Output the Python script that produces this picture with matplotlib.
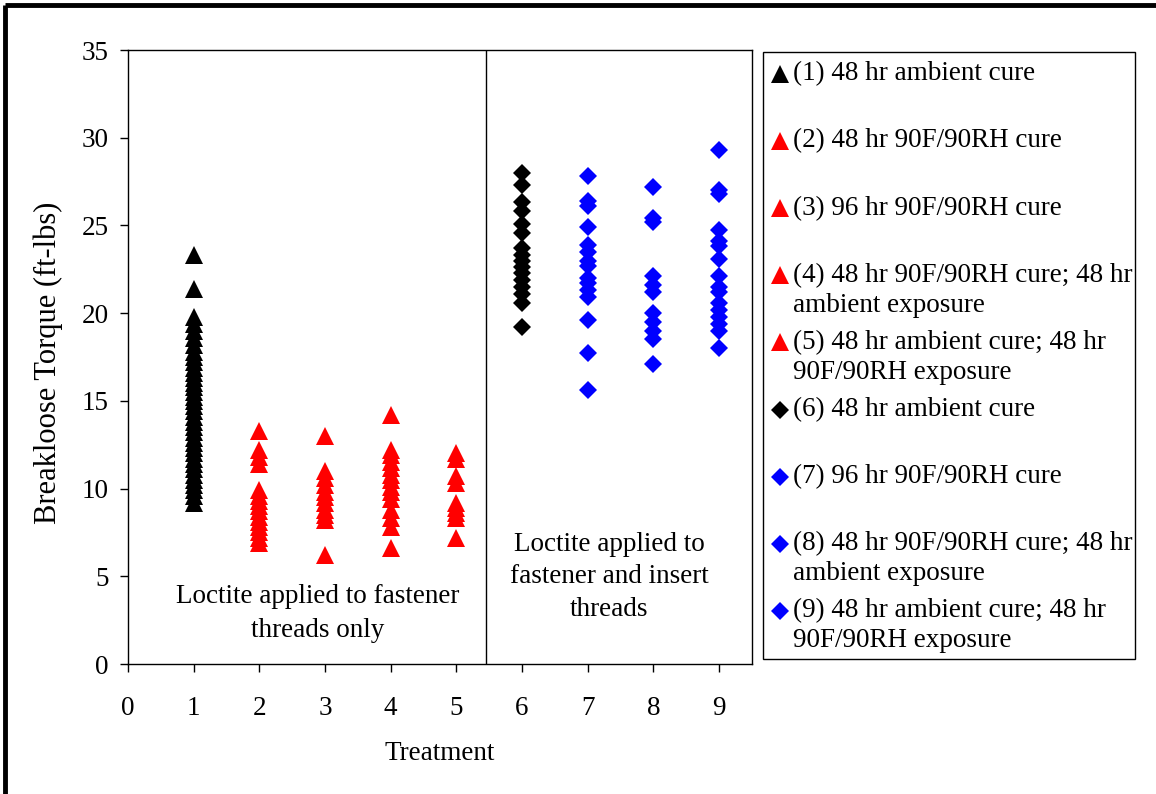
import matplotlib
matplotlib.use("Agg")
import matplotlib.pyplot as plt
from matplotlib.lines import Line2D
from matplotlib.patches import Rectangle

plt.rcParams['font.family'] = ['Liberation Serif', 'DejaVu Serif']

# ---- data (breakloose torque, ft-lbs) ----
treatments = [1, 2, 3, 4, 5, 6, 7, 8, 9]
t1 = [23.3, 21.4, 19.8, 19.4, 19.0, 18.6, 18.2, 17.8, 17.5, 17.2, 16.9, 16.6, 16.3,
      16.0, 15.8, 15.5, 15.2, 15.0, 14.7, 14.4, 14.1, 13.8, 13.5, 13.2, 12.9, 12.6,
      12.3, 12.0, 11.7, 11.4, 11.1, 10.8, 10.5, 10.2, 9.9, 9.6, 9.2]
t2 = [13.3, 12.2, 11.8, 11.4, 9.9, 9.6, 9.3, 9.0, 8.7, 8.4, 8.1, 7.8, 7.5, 7.2, 6.9]
t3 = [13.0, 11.0, 10.6, 10.2, 9.8, 9.5, 9.2, 8.8, 8.5, 8.2, 6.2]
t4 = [14.2, 12.2, 11.9, 11.5, 11.2, 10.8, 10.5, 10.1, 9.8, 9.4, 8.8, 8.3, 7.8, 6.6]
t5 = [12.0, 11.7, 10.7, 10.3, 9.2, 8.9, 8.6, 8.3, 7.2]
t6 = [28.0, 27.3, 26.35, 25.8, 25.1, 24.55, 23.7, 23.3, 23.0, 22.65, 22.3, 21.9,
      21.5, 21.1, 20.6, 19.2]
t7 = [27.8, 26.4, 26.1, 24.9, 23.9, 23.5, 23.0, 22.7, 22.0, 21.7, 21.3, 20.9,
      19.6, 17.7, 15.6]
t8 = [27.2, 25.4, 25.2, 22.1, 21.6, 21.2, 20.0, 19.5, 19.0, 18.5, 17.1]
t9 = [29.3, 27.0, 26.8, 24.75, 24.1, 23.8, 23.1, 22.1, 21.5, 21.2, 20.55, 20.2,
      19.8, 19.4, 19.0, 18.0]
series = [t1, t2, t3, t4, t5, t6, t7, t8, t9]

labels = [
    "(1) 48 hr ambient cure",
    "(2) 48 hr 90F/90RH cure",
    "(3) 96 hr 90F/90RH cure",
    "(4) 48 hr 90F/90RH cure; 48 hr\nambient exposure",
    "(5) 48 hr ambient cure; 48 hr\n90F/90RH exposure",
    "(6) 48 hr ambient cure",
    "(7) 96 hr 90F/90RH cure",
    "(8) 48 hr 90F/90RH cure; 48 hr\nambient exposure",
    "(9) 48 hr ambient cure; 48 hr\n90F/90RH exposure",
]
markers = ['^', '^', '^', '^', '^', 'D', 'D', 'D', 'D']
colors = ['#000000', '#FF0000', '#FF0000', '#FF0000', '#FF0000',
          '#000000', '#0000FF', '#0000FF', '#0000FF']
msizes = {'^': 13.5, 'D': 9.3}

y_ticks = [0, 5, 10, 15, 20, 25, 30, 35]
x_ticks = [0, 1, 2, 3, 4, 5, 6, 7, 8, 9]
divider_x = 5.45

W, H = 1156, 794
fig = plt.figure(figsize=(W / 100, H / 100), dpi=100)
ax = fig.add_axes([128 / W, 1 - 664 / H, (752 - 128) / W, (664 - 50) / H])

for x, vals, m, c in zip(treatments, series, markers, colors):
    ax.plot([x] * len(vals), vals, linestyle='none', marker=m, color=c,
            markersize=msizes[m], markeredgewidth=0, zorder=3)

ax.axvline(divider_x, color='black', lw=1.0, zorder=2)

ax.set_xlim(0, 9.5)
ax.set_ylim(0, 35)
ax.set_xticks(x_ticks)
ax.set_yticks(y_ticks)
ax.tick_params(axis='both', direction='out', length=6, width=1, labelsize=19.5)
ax.tick_params(axis='x', pad=17)
ax.tick_params(axis='y', pad=8)
for s in ax.spines.values():
    s.set_linewidth(1.0)

ax.set_xlabel("Treatment", fontsize=19.5)
ax.set_ylabel("Breakloose Torque (ft-lbs)", fontsize=22)
ax.xaxis.set_label_coords(0.5, -0.126)
ax.yaxis.set_label_coords(-0.104, 0.49)

ax.text(2.89, 2.88, "Loctite applied to fastener\nthreads only", ha='center',
        va='center', fontsize=19.5, linespacing=1.45)
ax.text(7.33, 4.96, "Loctite applied to\nfastener and insert\nthreads", ha='center',
        va='center', fontsize=19.5, linespacing=1.4)

# ---- legend (manual, Excel style: marker aligned with first line) ----
fig.patches.append(Rectangle((763 / W, 1 - 659 / H), (1135 - 763) / W, (659 - 52) / H,
                             transform=fig.transFigure, facecolor='white',
                             edgecolor='black', lw=1.0))
y0, dy, dl = 74, 67.1, 30
for i, (lab, m, c) in enumerate(zip(labels, markers, colors)):
    yc = y0 + i * dy
    fig.add_artist(Line2D([780 / W], [1 - yc / H], transform=fig.transFigure,
                          marker=m, color=c, markersize=msizes[m] * 0.95,
                          markeredgewidth=0, linestyle='none'))
    for k, line in enumerate(lab.split("\n")):
        fig.text(793 / W, 1 - (yc + k * dl) / H, line, ha='left', va='center',
                 fontsize=19.5)

# ---- outer frame (thick top and left edges) ----
fig.add_artist(Line2D([5 / W, 1.0], [1 - 5 / H, 1 - 5 / H], transform=fig.transFigure,
                      color='black', lw=3.5, solid_capstyle='butt'))
fig.add_artist(Line2D([5 / W, 5 / W], [0, 1 - 5 / H], transform=fig.transFigure,
                      color='black', lw=3.5, solid_capstyle='butt'))

fig.savefig("out.png", dpi=100)
